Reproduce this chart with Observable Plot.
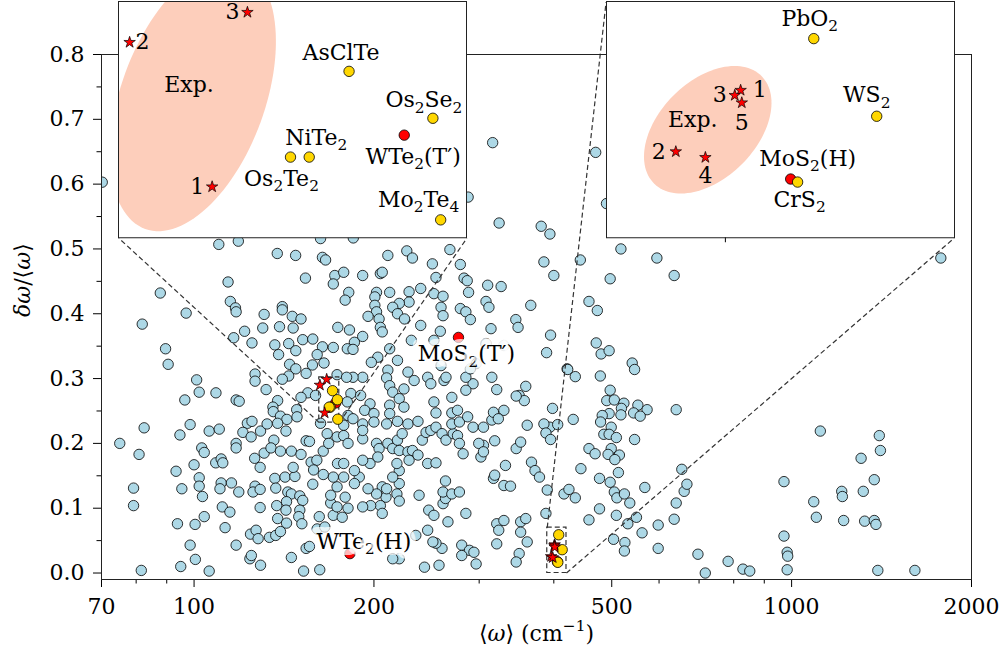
<!DOCTYPE html>
<html><head><meta charset="utf-8">
<script src="https://cdn.jsdelivr.net/npm/d3@7"></script>
<script src="https://cdn.jsdelivr.net/npm/@observablehq/plot@0.6"></script>
<style>
html,body{margin:0;padding:0;background:#fff;}
#chart{position:relative;width:1003px;height:659px;overflow:hidden;background:#fff;}
#chart svg{position:absolute;font-family:'DejaVu Serif','Liberation Serif',serif !important;font-size:22px;}
#chart svg text{font-family:'DejaVu Serif','Liberation Serif',serif !important;}
</style></head><body><div id="chart"></div>
<script>
// ---------- data ----------
const omegaDomain = [70, 2000];
const ratioDomain = [-0.01, 0.8];
const xMajor = [70, 100, 200, 500, 1000, 2000];
const xMinor = [80, 90, 300, 400, 600, 700, 800, 900];
const yMajor = [0, 0.1, 0.2, 0.3, 0.4, 0.5, 0.6, 0.7, 0.8];
const yMinor = [0.05, 0.15, 0.25, 0.35, 0.45, 0.55, 0.65, 0.75];

// all other materials (light blue)
const otherOmega = [
110,118.6,162.8,137.8,147.9,164,166,172,171,153.6,
114,87.8,115,117.3,117.6,140.5,140.5,97,131,146,
151,81.9,130.3,139,146.5,121.5,116.5,125,136.5,144,
152,158,164,89.6,138.5,148,160.7,90.5,144.5,148,
157.8,165,154,144,173.5,126.5,126.5,140.5,101,102,
108.8,132,96.5,117.6,119,138,155,151,148.5,135.5,
135.7,139.5,143,148.7,162.8,82.5,94.7,98.5,106,110.2,
122.8,125,120.7,124.6,129.2,132.5,138,142.5,136,75.1,
80.9,103,104,117.6,117.6,131,134.5,139.5,145.5,151,
154,156,164.5,108.7,111,111.7,126.3,129,157,160.5,
93.3,100,102,102,103.3,111,110.5,115.5,118.8,126.5,
125.5,129,136.5,137,142,147.5,146.5,143.5,145.5,150.3,
152,142.8,158,169.3,79.2,79.2,95.4,111.5,114.8,129,
137.5,142.5,150.3,149.7,151.5,93.8,100.4,104,112.7,124.3,
127,128,133.7,137,139.5,138,162,98.5,117.6,124,
124.7,129.2,145.5,154,156,100.5,95,106,81.6,152.5,
162.3,160.7,165.5,173.5,173.8,173.5,167,168,171,164.5,
158.5,169.3,171,159.7,174,70.2,142.8,181,266,
184.7,211,227,232,268,394,385,400,250.5,279,
283,286.5,288,310,326.5,308,311.5,366,345.5,348.5,
314,279,285,290,259,261,239.5,258.3,252,261,
254,239.5,229,229,220.5,215,219,225,212.5,205,
206.5,191.5,202,200.7,200.7,202,195.5,204,205,206.5,
182,191.5,185.5,180.5,184.5,178,181.5,179,171,212.5,
219,203,198,211,228,233.5,224.5,210,212.5,215,
191.5,184.5,180,183,190,180.5,197,193,200,212.5,
220.5,224.5,212.5,210,219,228,237,181,184.5,191.5,
200,178,178,181,191.5,191.5,202,204,211,215,
219,220.5,228,232,229,237,241,246,254,244.5,
249,254,260,264,271.5,276,278,282,270,278,
287,293,305,315,317,330,323,318.5,305,299.5,
302,305,346,352,361,367,372,378.5,317,318.5,
330,338.5,390,416,394,406,385,398,389,395,
421,359,350,357,321,293,285,270,252,254,
270,276,246,249,262,264,285,296.5,290,315,
346,388,395,332,285,321,323.5,330,352,359,
352,361,350,346,388,321,296.5,280.5,289,294,
280.5,260,254,251,257,243,246,235,220.5,215,
238,247,252,261,263.5,261,270,278,263.5,220.5,
220.5,215,218.5,220.5,209.5,206.5,210,202,205,197.5,
191.5,195.5,189,185.5,179,173.5,177,206.5,197,203,
191.5,185.5,178,178,218.5,223,231,252,308,330,
259,
518,595,636,497,443,458,473,471,480,495,
541,546,422,434.5,478.5,497,490.5,505,524,519,
553,573,641,544,558,518,495,482,479,431,
499,485,495,509,546,458,469,499,493,515,
506,444,513,477,497,568,424,434.5,505,510,
525,536,477,509,550,532,458,503.5,526,525,
562,598,598,636,641,661,668,655,697,717,
783,829,851,971,983,985,983,971,1089,1100,
1117,1213,1216,1222,1307,1318,1325,1375,1375,1384,
1402,1408,1394,1608,1777,
316,470,287.5,324,381,490
];
const otherRatio = [
.507,.512,.516,.493,.490,.487,.483,.459,.446,.455,
.449,.432,.419,.409,.403,.411,.406,.401,.399,.396,
.392,.384,.378,.380,.378,.373,.363,.355,.352,.354,
.360,.361,.349,.346,.337,.343,.337,.322,.322,.315,
.321,.324,.308,.304,.306,.307,.296,.299,.298,.279,
.278,.283,.267,.267,.265,.266,.278,.271,.252,.256,
.249,.242,.237,.241,.231,.224,.213,.229,.219,.222,
.231,.234,.217,.210,.219,.230,.231,.219,.205,.200,
.183,.193,.186,.200,.193,.185,.193,.188,.188,.183,
.204,.203,.188,.170,.176,.170,.177,.163,.171,.174,
.157,.167,.147,.134,.118,.139,.130,.139,.125,.134,
.125,.129,.146,.131,.148,.149,.163,.125,.122,.119,
.112,.110,.137,.108,.131,.104,.130,.102,.094,.101,
.104,.097,.097,.087,.076,.076,.075,.087,.070,.060,
.066,.053,.055,.058,.064,.084,.087,.043,.043,.022,
.027,.012,.024,.038,.041,.021,.010,.003,.004,.003,
.005,.068,.071,.133,.169,.210,.215,.200,.148,.152,
.159,.120,.089,.274,.379,.603,.077,.100,.079,
.517,.490,.497,.486,.499,.523,.480,.459,.477,.476,
.455,.451,.433,.444,.442,.419,.410,.413,.391,.379,
.377,.408,.403,.391,.410,.397,.382,.373,.431,.427,
.456,.439,.434,.418,.416,.410,.400,.392,.433,.462,
.464,.459,.433,.426,.413,.403,.396,.392,.379,.372,
.375,.365,.356,.346,.345,.464,.433,.421,.348,.346,
.328,.333,.325,.313,.310,.297,.284,.301,.289,.279,
.302,.302,.302,.277,.274,.264,.261,.251,.246,.259,
.269,.256,.246,.230,.234,.230,.234,.243,.238,.230,
.233,.228,.212,.200,.207,.220,.200,.192,.200,.192,
.205,.189,.187,.189,.174,.182,.205,.169,.170,.217,
.220,.225,.215,.205,.215,.212,.200,.184,.230,.233,
.241,.225,.225,.236,.248,.251,.238,.204,.197,.200,
.179,.187,.192,.202,.228,.171,.158,.148,.146,.151,
.135,.134,.128,.122,.225,.229,.230,.254,.340,.367,
.315,.288,.274,.266,.283,.292,.282,.271,.264,.247,
.247,.251,.302,.292,.297,.302,.302,.323,.315,.302,
.273,.216,.206,.166,.092,.076,.066,.081,.079,.084,
.063,.048,.030,.017,.092,.045,.014,.043,.035,.032,
.027,.038,.046,.048,.012,.009,.066,.058,.022,.022,
.120,.097,.089,.107,.115,.125,.122,.125,.142,.158,
.138,.148,.122,.111,.117,.133,.130,.122,.104,.104,
.102,.130,.148,.138,.117,.102,.086,.092,.169,.179,
.174,.158,.169,.148,.169,.215,.359,.359,.354,.351,
.320,
.500,.486,.459,.454,.483,.419,.405,.355,.338,.343,
.324,.314,.314,.303,.304,.282,.266,.267,.262,.254,
.259,.252,.252,.247,.242,.244,.246,.243,.233,.237,
.225,.214,.214,.209,.206,.192,.184,.192,.183,.182,
.175,.161,.155,.146,.140,.132,.129,.116,.125,.116,
.122,.108,.099,.089,.086,.076,.082,.052,.047,.034,
.062,.074,.038,.083,.108,.126,.137,.160,.029,.000,
.018,.006,.003,.057,.032,.026,.005,.141,.110,.086,
.219,.126,.118,.081,.177,.126,.080,.144,.081,.075,
.212,.189,.004,.004,.486,
.664,.649,.580,.540,.535,.570
];

// candidate materials (gold)
const candName  = ["AsClTe", "Os_2Se_2", "NiTe_2", "Os_2Te_2", "Mo_2Te_4", "PbO_2", "WS_2", "CrS_2"];
const candOmega = [170.5, 173.7, 169.0, 168.3, 174.0, 407.6, 413.1, 406.2];
const candRatio = [0.2813, 0.2674, 0.2559, 0.2559, 0.2373, 0.0590, 0.0360, 0.0165];

// reference materials (red)
const refName  = ["WTe_2(T′)", "MoS_2(H)", "MoS_2(T′)", "WTe_2(H)"];
const refOmega = [172.6, 405.6, 277, 182.3];
const refRatio = [0.2624, 0.0174, 0.3635, 0.0299];

// experimental values (stars)
const expLabel = ["1", "2", "3", "1", "2", "3", "4", "5"];
const expOmega = [165.4, 162.4, 166.7, 401.3, 395.8, 400.8, 398.3, 401.4];
const expRatio = [0.2471, 0.2899, 0.2988, 0.0437, 0.0255, 0.0422, 0.0238, 0.0400];

// zoom windows
const zoomAOmega = [162, 175], zoomARatio = [0.232, 0.302];
const zoomBOmega = [390, 420], zoomBRatio = [0, 0.07];
const zoomBTicks = [400];

// "Exp." regions (centres)
const expRegionOmega = [164.7, 398.5];
const expRegionRatio = [0.2736, 0.0320];

// ---------- layout / style ----------
const W = 1003, H = 659, mL = 101, mR = 32, mT = 54, mB = 80;
const fw = W - mL - mR, fh = H - mT - mB;
const FONT = "DejaVu Serif";
const FS = 22;
const insetFrac = [[0.02, 0.65], [0.58, 0.65]];
const insetSize = [0.4, 0.45];
const ellipseShape = [{a: 140, b: 72, angle: 70}, {a: 76, b: 48.5, angle: 45}];
const labelOffset = {
  "AsClTe": [-8, -18], "Os_2Se_2": [-9, -18], "NiTe_2": [7, -19], "Os_2Te_2": [-9, 22],
  "Mo_2Te_4": [-22, -20], "WTe_2(T′)": [9, 22],
  "PbO_2": [-4, -20], "WS_2": [-10, -21], "MoS_2(H)": [17, -20], "CrS_2": [2, 18],
  "MoS_2(T′)": [8, 17], "WTe_2(H)": [14, -12],
  "0:1": [-15, 0], "0:2": [13, 0], "0:3": [-15, 0],
  "1:1": [19, 0], "1:2": [-17, 0], "1:3": [-15, 0], "1:4": [0, 19], "1:5": [0, 20],
  "0:Exp.": [-4, -12], "1:Exp.": [-15, -10]
};
const dash = {stroke: "#333", strokeWidth: 1.2, strokeDasharray: "5,3"};
const blueStyle = {r: 5.2, fill: "lightblue", stroke: "black", strokeWidth: 0.8};
const goldStyle = {r: 5.2, fill: "gold", stroke: "black", strokeWidth: 0.8};
const redStyle = {r: 5.2, fill: "red", stroke: "black", strokeWidth: 0.8};
const starStyle = {r: 3.6, symbol: "star", fill: "red", stroke: "black", strokeWidth: 0.7};

// ---------- tables ----------
const others = otherOmega.map((o, i) => ({omega: o, ratio: otherRatio[i]}));
const cand = candName.map((n, i) => ({name: n, omega: candOmega[i], ratio: candRatio[i]}));
const refs = refName.map((n, i) => ({name: n, omega: refOmega[i], ratio: refRatio[i]}));
const exps = expLabel.map((n, i) => ({name: n, omega: expOmega[i], ratio: expRatio[i]}));
const boxes = [
  {omega: zoomAOmega, ratio: zoomARatio, ticks: []},
  {omega: zoomBOmega, ratio: zoomBRatio, ticks: zoomBTicks}
];
const inBox = (b, d) => d.omega >= b.omega[0] && d.omega <= b.omega[1] && d.ratio >= b.ratio[0] && d.ratio <= b.ratio[1];
const inAny = d => boxes.some(b => inBox(b, d));

const f2o = f => omegaDomain[0] * Math.pow(omegaDomain[1] / omegaDomain[0], f);
const f2r = f => ratioDomain[0] + f * (ratioDomain[1] - ratioDomain[0]);

function corner(i, c) {
  const b = boxes[i], [fx, fy] = insetFrac[i];
  const right = c.includes("r"), upper = c.includes("u");
  return {
    x1: b.omega[right ? 1 : 0], y1: b.ratio[upper ? 1 : 0],
    x2: f2o(fx + (right ? insetSize[0] : 0)), y2: f2r(fy + (upper ? insetSize[1] : 0))
  };
}
const connectors = [corner(0, "ll"), corner(0, "lr"), corner(1, "ul"), corner(1, "lr")];
const zoomRects = boxes.map(b => ({x1: b.omega[0], x2: b.omega[1], y1: b.ratio[0], y2: b.ratio[1]}));

function textMarks(items, keyPrefix, extra = {}) {
  return items.map(d => {
    const off = labelOffset[keyPrefix + d.name] || [0, 0];
    return Plot.text([d], {x: "omega", y: "ratio", text: "name", dx: off[0], dy: off[1],
      fontSize: FS, fontFamily: FONT, fill: "black", ...extra});
  });
}

// ---------- main plot ----------
const mainLabels = refs.filter(d => !inAny(d));
const main = Plot.plot({
  width: W, height: H, marginLeft: mL, marginRight: mR, marginTop: mT, marginBottom: mB,
  style: `font-family: '${FONT}', serif; font-size: ${FS}px; color: black; background: white; overflow: visible;`,
  x: {type: "log", domain: omegaDomain},
  y: {domain: ratioDomain},
  marks: [
    Plot.axisX({ticks: xMajor, tickFormat: d => String(d), tickSize: 8, tickPadding: 11, label: null}),
    Plot.axisX({ticks: xMinor, tickFormat: () => "", tickSize: 4.5, label: null}),
    Plot.axisY({ticks: yMajor, tickFormat: d3.format(".1f"), tickSize: 8, tickPadding: 9, label: null}),
    Plot.axisY({ticks: yMinor, tickFormat: () => "", tickSize: 4.5, label: null}),
    Plot.dot(others, {x: "omega", y: "ratio", ...blueStyle, clip: true}),
    Plot.rect(zoomRects, {x1: "x1", x2: "x2", y1: "y1", y2: "y2", fill: "none", ...dash}),
    Plot.link(connectors, {x1: "x1", y1: "y1", x2: "x2", y2: "y2", ...dash}),
    Plot.dot(refs, {x: "omega", y: "ratio", ...redStyle}),
    Plot.dot(cand, {x: "omega", y: "ratio", ...goldStyle}),
    Plot.dot(exps, {x: "omega", y: "ratio", ...starStyle}),
    ...textMarks(mainLabels, "", {stroke: "white", strokeWidth: 12, strokeOpacity: 0.72}),
    Plot.text(["XLABEL"], {frameAnchor: "bottom", dy: 61, fontSize: FS, fontFamily: FONT}),
    Plot.text(["YLABEL"], {frameAnchor: "left", dx: -79, rotate: -90, fontSize: FS, fontFamily: FONT}),
    Plot.frame({stroke: "#222", strokeWidth: 1})
  ]
});

// ---------- insets ----------
function ellipsePoints(i, w, h) {
  const b = boxes[i], s = ellipseShape[i];
  const lo = Math.log(b.omega[0]), span = Math.log(b.omega[1]) - lo;
  const cx = (Math.log(expRegionOmega[i]) - lo) / span * w;
  const cy = (expRegionRatio[i] - b.ratio[0]) / (b.ratio[1] - b.ratio[0]) * h;
  const th = s.angle * Math.PI / 180;
  return d3.range(0, 121).map(k => {
    const t = k / 120 * 2 * Math.PI, u = s.a * Math.cos(t), v = s.b * Math.sin(t);
    const px = cx + u * Math.cos(th) - v * Math.sin(th);
    const py = cy + u * Math.sin(th) + v * Math.cos(th);
    return {omega: Math.exp(lo + px / w * span), ratio: b.ratio[0] + py / h * (b.ratio[1] - b.ratio[0])};
  });
}

const iw = insetSize[0] * fw, ih = insetSize[1] * fh;
const insets = boxes.map((b, i) => {
  const inside = arr => arr.filter(d => inBox(b, d));
  const region = [{name: "Exp.", omega: expRegionOmega[i], ratio: expRegionRatio[i]}];
  const svg = Plot.plot({
    width: iw, height: ih + 8, marginTop: 0, marginLeft: 0, marginRight: 0, marginBottom: 8,
    style: `font-family: '${FONT}', serif; font-size: ${FS}px; color: black; background: transparent; overflow: visible;`,
    x: {type: "log", domain: b.omega, axis: null},
    y: {domain: b.ratio, axis: null},
    marks: [
      Plot.frame({fill: "white", stroke: "none"}),
      Plot.line(ellipsePoints(i, iw, ih), {x: "omega", y: "ratio", fill: "#fdcebb", stroke: "none", curve: "linear-closed", clip: true}),
      ...(b.ticks.length ? [Plot.axisX({ticks: b.ticks, tickFormat: () => "", tickSize: 5, label: null})] : []),
      Plot.dot(inside(refs), {x: "omega", y: "ratio", ...redStyle}),
      Plot.dot(inside(cand), {x: "omega", y: "ratio", ...goldStyle}),
      Plot.dot(inside(exps), {x: "omega", y: "ratio", ...starStyle}),
      ...textMarks(inside(refs), ""),
      ...textMarks(inside(cand), ""),
      ...textMarks(inside(exps), i + ":"),
      ...textMarks(region, i + ":"),
      Plot.frame({stroke: "#222", strokeWidth: 1})
    ]
  });
  svg.style.left = (mL + insetFrac[i][0] * fw) + "px";
  svg.style.top = (mT + (1 - insetFrac[i][1] - insetSize[1]) * fh) + "px";
  return svg;
});

const chart = document.getElementById("chart");
main.style.left = "0px"; main.style.top = "0px";
chart.appendChild(main);
insets.forEach(s => chart.appendChild(s));

// ---------- rich text (italic, sub/superscripts) ----------
function richText(svg) {
  svg.querySelectorAll("text").forEach(el => {
    const s = el.textContent;
    const fs = parseFloat(getComputedStyle(el).fontSize) || FS;
    const sub = (0.7 * fs).toFixed(1), sh = (0.24 * fs).toFixed(1), up = (0.42 * fs).toFixed(1);
    if (s === "XLABEL") {
      el.innerHTML = `⟨<tspan font-style="italic">ω</tspan>⟩ (cm<tspan font-size="${sub}" dy="-${up}">−1</tspan><tspan dy="${up}">)</tspan>`;
    } else if (s === "YLABEL") {
      el.innerHTML = `<tspan font-style="italic">δω</tspan>/⟨<tspan font-style="italic">ω</tspan>⟩`;
    } else if (s.includes("_")) {
      const parts = s.split(/_(\d)/);
      el.innerHTML = parts.map((p, k) => k % 2
        ? `<tspan font-size="${sub}" dy="${sh}">${p}</tspan>`
        : (k > 0 ? `<tspan dy="-${sh}">${p}</tspan>` : p)).join("");
    }
  });
}
[main, ...insets].forEach(richText);
</script></body></html>
